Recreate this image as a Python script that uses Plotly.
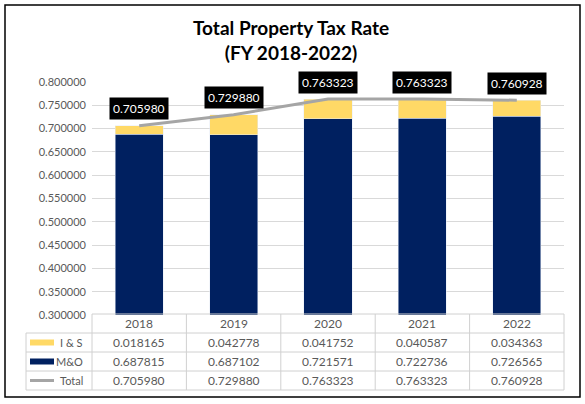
import plotly.graph_objects as go

years = ["2018", "2019", "2020", "2021", "2022"]
i_and_s = [0.018165, 0.042778, 0.041752, 0.040587, 0.034363]
m_and_o = [0.687815, 0.687102, 0.721571, 0.722736, 0.726565]
total = [0.705980, 0.729880, 0.763323, 0.763323, 0.760928]
row_names = ["I & S", "M&O", "Total"]

NAVY = "#002060"
GOLD = "#FFD966"
GREY = "#A5A5A5"
TXT = "#595959"
FONT = "Lato"

W, H = 585, 404
L, R, T, B = 92, 21, 82, 89
pw, ph = W - L - R, H - T - B

def px(x):  # pixel -> paper x
    return (x - L) / pw

def py(y):  # pixel -> paper y
    return (H - B - y) / ph

def note(x, y, text, size=12, color=TXT, xanchor="center"):
    fig.add_annotation(xref="paper", yref="paper", x=px(x), y=py(y), text=text,
                       showarrow=False, xanchor=xanchor, yanchor="middle",
                       font=dict(family=FONT, size=size, color=color))

fig = go.Figure()
fig.add_trace(go.Bar(x=years, y=m_and_o, name="M&O", marker_color=NAVY))
fig.add_trace(go.Bar(x=years, y=i_and_s, name="I & S", marker_color=GOLD))
fig.add_trace(go.Scatter(x=years, y=total, name="Total", mode="lines",
                         line=dict(color=GREY, width=3)))

# black value boxes above the total line (category index as x)
for i, v in enumerate(total):
    fig.add_annotation(x=i, y=v, text=f"{v:.6f}", showarrow=False, yshift=17,
                       xanchor="center", yanchor="middle",
                       bgcolor="black", borderpad=3,
                       font=dict(family=FONT, size=12, color="white"))

# title
note(291, 40, "<b>Total Property Tax Rate<br>(FY 2018-2022)</b>", size=19, color="black")

# data table under the plot
shapes = []
line_col = "#D0D0D0"
row_px = [314, 333, 352, 371, 390]
col_w = pw / len(years)
col_px = [L + i * col_w for i in range(len(years) + 1)]

def seg(x0, y0, x1, y1, color=line_col, width=1):
    return dict(type="line", xref="paper", yref="paper", x0=px(x0), y0=py(y0),
                x1=px(x1), y1=py(y1), line=dict(color=color, width=width), layer="above")

shapes.append(seg(L, row_px[0], W - R, row_px[0]))
for y in row_px[1:]:
    shapes.append(seg(26, y, W - R, y))
shapes.append(seg(26, row_px[1], 26, row_px[-1]))
for x in col_px:
    shapes.append(seg(x, row_px[0], x, row_px[-1]))

for i, yr in enumerate(years):
    note(col_px[i] + col_w / 2, (row_px[0] + row_px[1]) / 2, yr)

rows = [i_and_s, m_and_o, total]
for r, (name, vals) in enumerate(zip(row_names, rows)):
    yc = (row_px[r + 1] + row_px[r + 2]) / 2
    for i, v in enumerate(vals):
        note(col_px[i] + col_w / 2, yc, f"{v:.6f}")
    note(85, yc, name, size=11, xanchor="right")

# legend keys in table
ky = [(row_px[1] + row_px[2]) / 2, (row_px[2] + row_px[3]) / 2, (row_px[3] + row_px[4]) / 2]
shapes.append(dict(type="rect", xref="paper", yref="paper", x0=px(30), x1=px(54),
                   y0=py(ky[0] + 3), y1=py(ky[0] - 3), fillcolor=GOLD, line_width=0))
shapes.append(dict(type="rect", xref="paper", yref="paper", x0=px(30), x1=px(54),
                   y0=py(ky[1] + 3), y1=py(ky[1] - 3), fillcolor=NAVY, line_width=0))
shapes.append(seg(30, ky[2], 54, ky[2], color=GREY, width=3))

# outer border
shapes.append(dict(type="rect", xref="paper", yref="paper", x0=px(5), x1=px(580),
                   y0=py(397), y1=py(5), line=dict(color="black", width=1.5)))

fig.update_layout(
    width=W, height=H,
    margin=dict(l=L, r=R, t=T, b=B),
    paper_bgcolor="white", plot_bgcolor="white",
    barmode="stack", bargap=0.49,
    showlegend=False,
    shapes=shapes,
    xaxis=dict(type="category", range=[-0.5, 4.5], showticklabels=False, showgrid=False,
               zeroline=False, showline=False),
    yaxis=dict(range=[0.3, 0.8], dtick=0.05, tickformat=".6f", showgrid=True,
               gridcolor="#D9D9D9", zeroline=False, showline=False,
               tickfont=dict(family=FONT, size=11, color=TXT), ticklabelstandoff=5),
)

fig.write_html("out.html", post_script="document.body.style.margin='0';",
               config={"displayModeBar": False})
